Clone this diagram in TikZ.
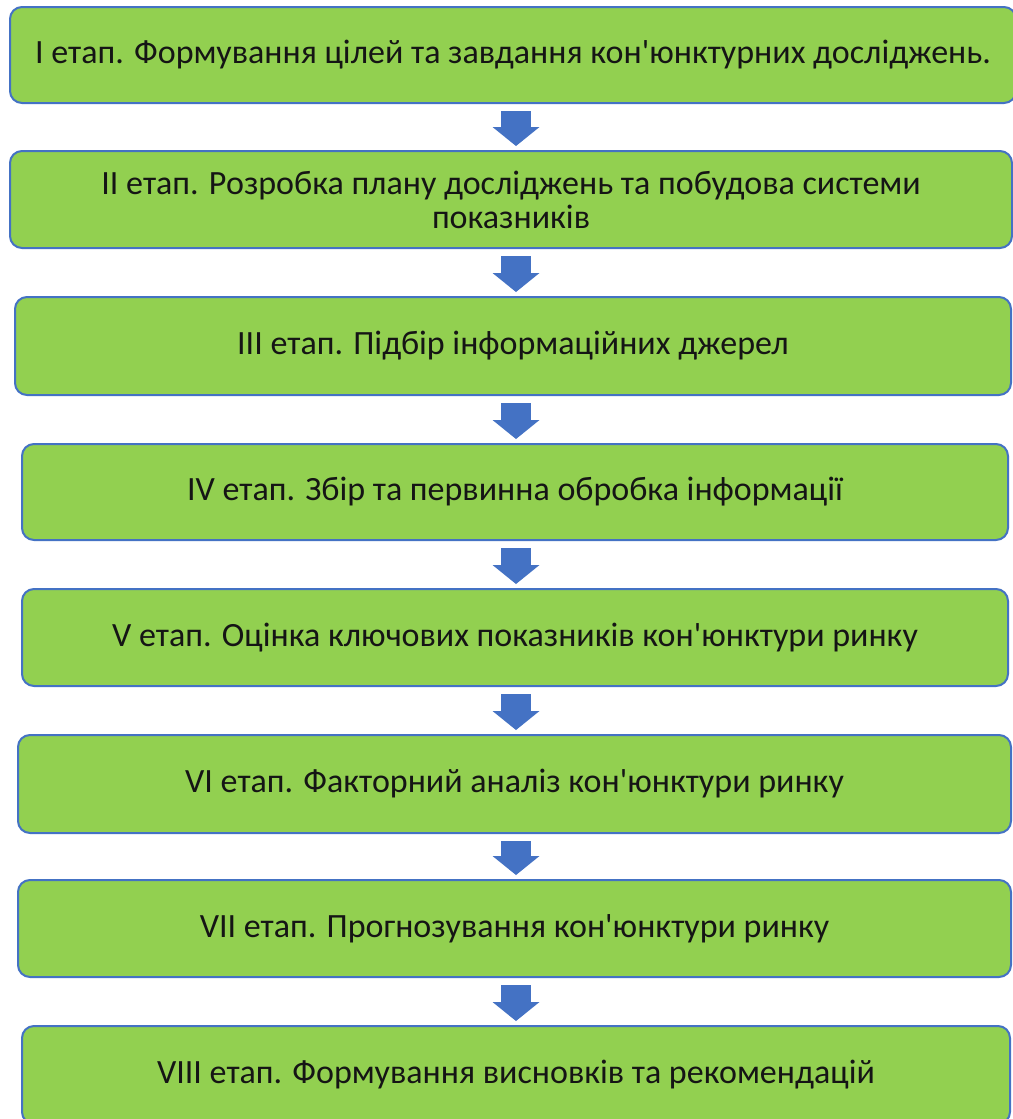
\documentclass[tikz,border=0pt]{standalone}
\usepackage{fontspec}
\newfontfamily\stagefont{Carlito}
\usepackage{tikz}
\usetikzlibrary{arrows.meta}

\definecolor{stagegreen}{HTML}{92D050}
\definecolor{stageblue}{HTML}{4472C4}
\definecolor{stagetext}{HTML}{151515}

\tikzset{
    stagebox/.style={draw=stageblue, fill=stagegreen, line width=2pt, rounded corners=12pt,
        inner sep=0pt, align=center, text=stagetext, font=\stagefont\fontsize{34}{34}\selectfont},
    stagearrow/.style={draw=stageblue, line width=30pt,
        -{Triangle[width=47pt, length=19pt, line width=0pt]}, shorten <=7pt, shorten >=4pt},
}

\begin{document}
\begin{tikzpicture}[x=1pt, y=-1pt]
    \useasboundingbox (0, 0) rectangle (1012, 1119);
    \fill[white] (0, 0) rectangle (1012, 1119);
    \coordinate (ax) at (516, 0);
    % stages
    \node[stagebox, minimum width=1006pt, minimum height=96pt] (s1) at (513, 55)
        {I етап. Формування цілей та завдання кон'юнктурних досліджень.};
    \node[stagebox, minimum width=1002pt, minimum height=97pt] (s2) at (511, 199.5)
        {II етап. Розробка плану досліджень та побудова системи\\показників};
    \node[stagebox, minimum width=996pt, minimum height=98pt] (s3) at (513, 346)
        {III етап. Підбір інформаційних джерел};
    \node[stagebox, minimum width=986pt, minimum height=96pt] (s4) at (515, 492)
        {IV етап. Збір та первинна обробка інформації};
    \node[stagebox, minimum width=986pt, minimum height=97pt] (s5) at (515, 637.5)
        {V етап. Оцінка ключових показників кон'юнктури ринку};
    \node[stagebox, minimum width=993pt, minimum height=98pt] (s6) at (514.5, 784)
        {VI етап. Факторний аналіз кон'юнктури ринку};
    \node[stagebox, minimum width=993pt, minimum height=97pt] (s7) at (514.5, 928.5)
        {VII етап. Прогнозування кон'юнктури ринку};
    \node[stagebox, minimum width=988pt, minimum height=98pt] (s8) at (516, 1075)
        {VIII етап. Формування висновків та рекомендацій};
    % arrows
    \draw[stagearrow] (s1.south -| ax) -- (s2.north -| ax);
    \draw[stagearrow] (s2.south -| ax) -- (s3.north -| ax);
    \draw[stagearrow] (s3.south -| ax) -- (s4.north -| ax);
    \draw[stagearrow] (s4.south -| ax) -- (s5.north -| ax);
    \draw[stagearrow] (s5.south -| ax) -- (s6.north -| ax);
    \draw[stagearrow] (s6.south -| ax) -- (s7.north -| ax);
    \draw[stagearrow] (s7.south -| ax) -- (s8.north -| ax);
\end{tikzpicture}
\end{document}
